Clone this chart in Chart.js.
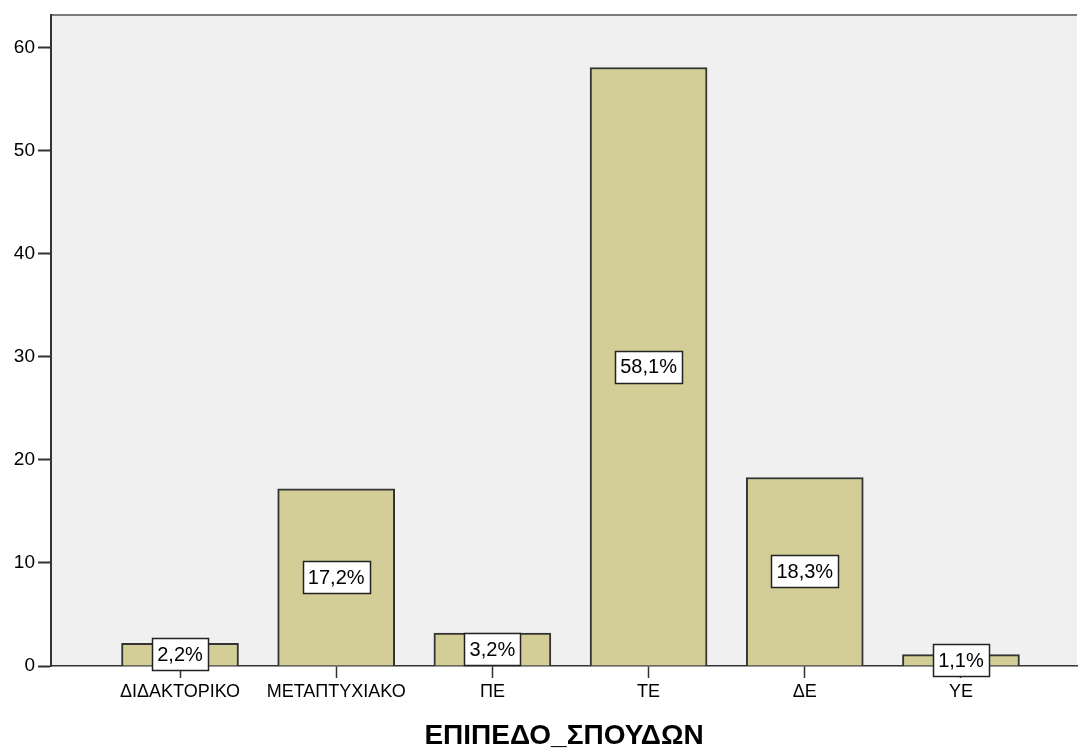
<!DOCTYPE html>
<html>
<head>
<meta charset="utf-8">
<script src="https://cdn.jsdelivr.net/npm/chart.js@4/dist/chart.umd.min.js"></script>
<style>
  html, body { margin: 0; padding: 0; background: #ffffff; }
  #wrap { width: 1078px; height: 749px; position: relative; }
</style>
</head>
<body>
<div id="wrap"><canvas id="c" width="1078" height="749"></canvas></div>
<script>
const categories = ["ΔΙΔΑΚΤΟΡΙΚΟ", "ΜΕΤΑΠΤΥΧΙΑΚΟ", "ΠΕ", "ΤΕ", "ΔΕ", "ΥΕ"];
const percentValues = [2.2, 17.2, 3.2, 58.1, 18.3, 1.1];
const percentLabels = ["2,2%", "17,2%", "3,2%", "58,1%", "18,3%", "1,1%"];
const yTicks = [0, 10, 20, 30, 40, 50, 60];
const axisTitle = "ΕΠΙΠΕΔΟ_ΣΠΟΥΔΩΝ";

const FONT = "'Liberation Sans', Arial, sans-serif";

const bgPlugin = {
  id: 'plotBg',
  beforeDraw(chart) {
    const {ctx, chartArea: a} = chart;
    ctx.save();
    ctx.fillStyle = '#f0f0f0';
    ctx.fillRect(a.left, a.top, a.right - a.left, a.bottom - a.top);
    ctx.strokeStyle = '#7a7a7a';
    ctx.lineWidth = 2;
    ctx.beginPath();
    ctx.moveTo(a.left, a.top);
    ctx.lineTo(a.right, a.top);
    ctx.stroke();
    ctx.restore();
  }
};

const boxLabels = {
  id: 'boxLabels',
  afterDatasetsDraw(chart) {
    const {ctx} = chart;
    const meta = chart.getDatasetMeta(0);
    ctx.save();
    ctx.font = "20px " + FONT;
    ctx.textAlign = 'center';
    ctx.textBaseline = 'middle';
    meta.data.forEach((bar, i) => {
      const txt = percentLabels[i];
      const cy = (bar.y + bar.base) / 2;
      const w = Math.round(ctx.measureText(txt).width + 10);
      const h = 32;
      const x0 = Math.round(bar.x - w / 2) + 0.5;
      const y0 = Math.round(cy - h / 2) + 0.5;
      ctx.fillStyle = '#ffffff';
      ctx.fillRect(x0, y0, w, h);
      ctx.strokeStyle = '#222';
      ctx.lineWidth = 1.5;
      ctx.strokeRect(x0, y0, w, h);
      ctx.fillStyle = '#000';
      ctx.fillText(txt, bar.x, cy + 1);
    });
    ctx.restore();
  }
};

new Chart(document.getElementById('c'), {
  type: 'bar',
  data: {
    datasets: [{
      data: percentValues.map((v, i) => ({x: i, y: v})),
      backgroundColor: '#d3ce97',
      borderColor: '#333333',
      borderWidth: 2,
      barThickness: 117
    }]
  },
  options: {
    responsive: false,
    animation: false,
    devicePixelRatio: 1,
    layout: { padding: { top: 15, right: 1, left: 0, bottom: 0 } },
    plugins: { legend: { display: false }, tooltip: { enabled: false } },
    scales: {
      x: {
        type: 'linear',
        offset: false,
        min: -0.826,
        max: 5.743,
        afterBuildTicks(scale) {
          scale.ticks = categories.map((_, i) => ({ value: i }));
        },
        afterFit(scale) { scale.height = 83; },
        ticks: {
          autoSkip: false,
          maxRotation: 0,
          padding: 3,
          color: '#000',
          font: { family: FONT, size: 18 },
          callback: (v) => categories[v]
        },
        grid: {
          display: true,
          offset: false,
          drawOnChartArea: false,
          drawTicks: true,
          tickLength: 12,
          tickColor: '#333',
          tickWidth: 1.5
        },
        border: { display: true, color: '#333', width: 1.5 },
        title: {
          display: true,
          text: axisTitle,
          color: '#000',
          font: { family: FONT, size: 28, weight: 'bold', lineHeight: 0.9 },
          padding: { top: 0, bottom: 0 }
        }
      },
      y: {
        min: 0,
        max: 63.2,
        afterBuildTicks(scale) {
          scale.ticks = yTicks.map(v => ({ value: v }));
        },
        afterFit(scale) { scale.width = 51; },
        ticks: {
          padding: 3,
          color: '#000',
          font: { family: FONT, size: 19 }
        },
        grid: {
          display: true,
          drawOnChartArea: false,
          drawTicks: true,
          tickLength: 13,
          tickColor: '#333',
          tickWidth: 2
        },
        border: { display: true, color: '#333', width: 2 }
      }
    }
  },
  plugins: [bgPlugin, boxLabels]
});
</script>
</body>
</html>
